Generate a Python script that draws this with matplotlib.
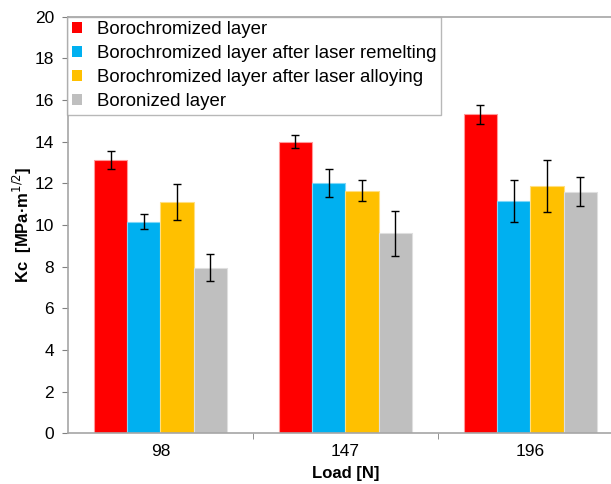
import numpy as np
import matplotlib
matplotlib.use("Agg")
import matplotlib.pyplot as plt

plt.rcParams['font.family'] = ['Liberation Sans', 'DejaVu Sans']

loads = ["98", "147", "196"]
series = ["Borochromized layer",
          "Borochromized layer after laser remelting",
          "Borochromized layer after laser alloying",
          "Boronized layer"]
kc_boro_cr = [13.1, 14.0, 15.3]
kc_remelt = [10.15, 12.0, 11.15]
kc_alloy = [11.1, 11.65, 11.85]
kc_boron = [7.95, 9.6, 11.6]
err_boro_cr = [0.44, 0.31, 0.45]
err_remelt = [0.36, 0.68, 1.0]
err_alloy = [0.86, 0.5, 1.25]
err_boron = [0.64, 1.08, 0.68]
colors = ["#FF0000", "#00B0F0", "#FFC000", "#BFBFBF"]
edges = ["#FF9999", "#7FD7F7", "#FFDF80", "#DFDFDF"]

values = [kc_boro_cr, kc_remelt, kc_alloy, kc_boron]
errors = [err_boro_cr, err_remelt, err_alloy, err_boron]

fig = plt.figure(figsize=(6.11, 4.84), dpi=100)
ax = fig.add_axes([0.1113, 0.1047, 0.908, 0.8612])

x = np.arange(len(loads))
w = 0.18
for i, (vals, errs) in enumerate(zip(values, errors)):
    ax.bar(x + (i - 1.5) * w, vals, w, color=colors[i], edgecolor=edges[i],
           linewidth=0.8, label=series[i],
           yerr=errs, error_kw=dict(ecolor="black", elinewidth=1, capsize=3, capthick=1))

ax.set_xlim(-0.5, 2.5)
ax.set_ylim(0, 20)
ax.set_yticks(np.arange(0, 21, 2))
ax.set_xticks(x)
ax.set_xticklabels(loads)
ax.set_xticks([0.5, 1.5], minor=True)
ax.tick_params(axis='x', which='major', length=0, labelsize=12.5, pad=8)
ax.tick_params(axis='x', which='minor', length=4, color="#808080")
ax.tick_params(axis='y', length=4, color="#808080", labelsize=12.5, pad=6)

for s in ["left", "bottom", "top"]:
    ax.spines[s].set_color("#A6A6A6")
    ax.spines[s].set_linewidth(1.2)
ax.spines["right"].set_visible(False)

ax.set_ylabel("Kc  [MPa·m$^{1/2}$]", fontsize=12, fontweight="bold")
ax.yaxis.set_label_coords(-0.062, 0.5)
ax.set_xlabel("Load [N]", fontsize=12, fontweight="bold", labelpad=5)

leg = ax.legend(loc="upper left", bbox_to_anchor=(-0.002, 1.0), fontsize=13.4,
                frameon=True, fancybox=False, edgecolor="#A6A6A6",
                handlelength=0.55, handleheight=0.55, handletextpad=0.8,
                borderpad=0.25, labelspacing=0.38, borderaxespad=0)
leg.get_frame().set_linewidth(1.0)
for h in leg.legend_handles:
    h.set_edgecolor("none")

plt.savefig("out.png", dpi=100)
